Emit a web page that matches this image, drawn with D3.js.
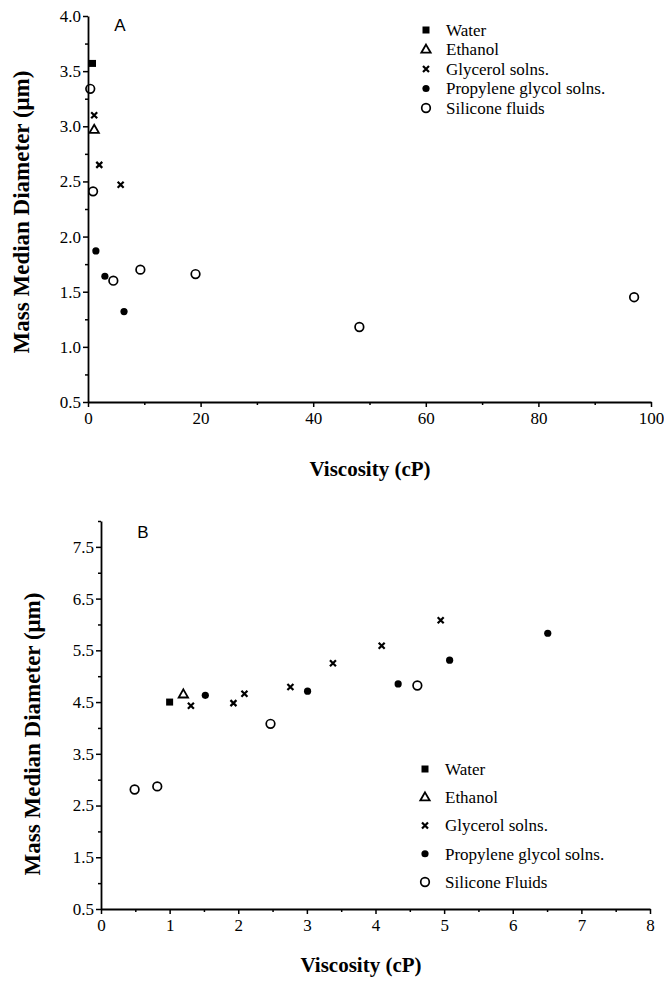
<!DOCTYPE html>
<html>
<head>
<meta charset="utf-8">
<script src="https://cdn.jsdelivr.net/npm/d3@7"></script>
<style>
  body { margin: 0; background: #fff; }
  svg { display: block; }
  .domain, .tick line { stroke: #000; }
</style>
</head>
<body>
<div id="chart"></div>
<script>
// panel A values [viscosity cP, MMD um]
var waterA = [[0.8, 3.57]];
var ethanolA = [[1.1, 2.97]];
var glycerolA = [[1.1, 3.10], [2.0, 2.65], [5.8, 2.47]];
var propyleneA = [[1.4, 1.87], [3.0, 1.64], [6.4, 1.32]];
var siliconeA = [[0.4, 3.34], [0.9, 2.41], [4.5, 1.60], [9.3, 1.70], [19.1, 1.66], [48.2, 1.18], [97.0, 1.45]];

// panel B values
var waterB = [[1.0, 4.50]];
var ethanolB = [[1.2, 4.65]];
var glycerolB = [[1.31, 4.43], [1.93, 4.48], [2.09, 4.66], [2.76, 4.79], [3.38, 5.25], [4.09, 5.59], [4.95, 6.08]];
var propyleneB = [[1.52, 4.63], [3.01, 4.71], [4.33, 4.85], [5.08, 5.31], [6.51, 5.83]];
var siliconeB = [[0.49, 2.81], [0.82, 2.87], [2.47, 4.08], [4.61, 4.82]];

var legendA = ["Water", "Ethanol", "Glycerol solns.", "Propylene glycol solns.", "Silicone fluids"];
var legendB = ["Water", "Ethanol", "Glycerol solns.", "Propylene glycol solns.", "Silicone Fluids"];
var kinds = ["square", "triangle", "cross", "dot", "ring"];

var xTicksA = [0, 20, 40, 60, 80, 100];
var yTicksA = [0.5, 1.0, 1.5, 2.0, 2.5, 3.0, 3.5, 4.0];
var xTicksB = [0, 1, 2, 3, 4, 5, 6, 7, 8];
var yTicksB = [0.5, 1.5, 2.5, 3.5, 4.5, 5.5, 6.5, 7.5];

var serif = "'Liberation Serif', 'DejaVu Serif', serif";

var svg = d3.select("#chart").append("svg")
    .attr("width", 664)
    .attr("height", 982);

function marker(g, kind, x, y) {
  if (kind == "square") {
    g.append("rect").attr("x", x - 3.5).attr("y", y - 3.5).attr("width", 7).attr("height", 7).attr("fill", "#000");
  } else if (kind == "triangle") {
    g.append("path").attr("d", d3.symbol().type(d3.symbolTriangle).size(38)())
      .attr("transform", `translate(${x},${y + 0.5})`)
      .attr("fill", "none").attr("stroke", "#000").attr("stroke-width", 1.8);
  } else if (kind == "cross") {
    g.append("path").attr("d", `M-3,-3L3,3M-3,3L3,-3`)
      .attr("transform", `translate(${x},${y})`)
      .attr("stroke", "#000").attr("stroke-width", 2.2);
  } else if (kind == "dot") {
    g.append("circle").attr("cx", x).attr("cy", y).attr("r", 3.6).attr("fill", "#000");
  } else {
    g.append("circle").attr("cx", x).attr("cy", y).attr("r", 4.3)
      .attr("fill", "none").attr("stroke", "#000").attr("stroke-width", 1.7);
  }
}

function drawPanel(p) {
  var x = d3.scaleLinear().domain(p.xDomain).range([p.left, p.right]);
  var y = d3.scaleLinear().domain(p.yDomain).range([p.bottom, p.top]);
  var g = svg.append("g");

  // minor ticks
  g.append("g").attr("transform", `translate(0,${p.bottom})`)
    .call(d3.axisBottom(x).tickValues(p.xMinor).tickSize(3).tickFormat(""))
    .call(a => a.select(".domain").remove());
  g.append("g").attr("transform", `translate(${p.left},0)`)
    .call(d3.axisLeft(y).tickValues(p.yMinor).tickSize(3).tickFormat(""))
    .call(a => a.select(".domain").remove());

  g.append("g").attr("transform", `translate(0,${p.bottom})`)
    .call(d3.axisBottom(x).tickValues(p.xTicks).tickSize(5).tickSizeOuter(0).tickPadding(5).tickFormat(d3.format("d")));
  g.append("g").attr("transform", `translate(${p.left},0)`)
    .call(d3.axisLeft(y).tickValues(p.yTicks).tickSize(5).tickSizeOuter(0).tickPadding(2).tickFormat(d3.format(".1f")));
  g.selectAll(".domain").attr("stroke-width", 1.8);
  g.selectAll(".tick line").attr("stroke-width", 1.5);
  g.selectAll(".tick text")
    .style("font-family", serif).style("font-size", "17px").style("fill", "#000");

  g.append("text")
    .attr("x", p.xTitle[0]).attr("y", p.xTitle[1])
    .attr("text-anchor", "middle")
    .style("font-family", serif).style("font-weight", "bold").style("font-size", "21px")
    .text("Viscosity (cP)");
  g.append("text")
    .attr("transform", `translate(${p.yTitle[0]},${p.yTitle[1]}) rotate(-90)`)
    .attr("text-anchor", "middle")
    .attr("dy", "0.35em")
    .style("font-family", serif).style("font-weight", "bold").style("font-size", "23px")
    .text("Mass Median Diameter (\u03bcm)");

  g.append("text")
    .attr("x", p.tag[0]).attr("y", p.tag[1])
    .attr("text-anchor", "middle").attr("dy", "0.35em")
    .style("font-family", "'Liberation Sans', sans-serif").style("font-size", "17px")
    .text(p.tagText);

  p.series.forEach(function(s, i) {
    s.forEach(function(d) {
      marker(g, kinds[i], x(d[0]), y(d[1]));
    });
  });

  p.legend.forEach(function(name, i) {
    var ly = p.legendPos[1] + i * p.legendStep;
    marker(g, kinds[i], p.legendPos[0], ly);
    g.append("text")
      .attr("x", p.legendPos[0] + 20).attr("y", ly)
      .attr("dy", "0.35em")
      .style("font-family", serif).style("font-size", "17px")
      .text(name);
  });
}

drawPanel({
  xDomain: [0, 100], yDomain: [0.5, 4.0],
  left: 88, right: 651, top: 16, bottom: 402,
  xTicks: xTicksA, yTicks: yTicksA,
  xMinor: d3.range(10, 100, 20), yMinor: d3.range(0.75, 4.0, 0.5),
  xTitle: [370, 476], yTitle: [21, 212],
  tag: [120, 25], tagText: "A",
  series: [waterA, ethanolA, glycerolA, propyleneA, siliconeA],
  legend: legendA, legendPos: [426, 30], legendStep: 19.5
});

drawPanel({
  xDomain: [0, 8], yDomain: [0.5, 8.0],
  left: 101, right: 650, top: 521, bottom: 909,
  xTicks: xTicksB, yTicks: yTicksB,
  xMinor: d3.range(0.5, 8, 1), yMinor: d3.range(1.0, 8.01, 1),
  xTitle: [361, 972], yTitle: [32, 734],
  tag: [143, 532], tagText: "B",
  series: [waterB, ethanolB, glycerolB, propyleneB, siliconeB],
  legend: legendB, legendPos: [425, 769], legendStep: 28.25
});
</script>
</body>
</html>
